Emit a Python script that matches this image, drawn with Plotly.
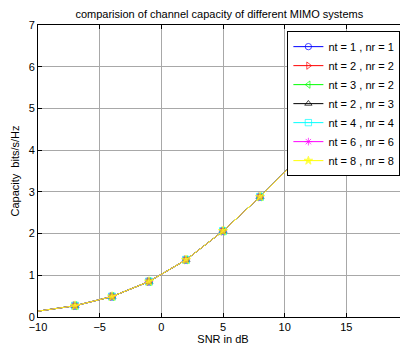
import plotly.graph_objects as go

snr_db = [-10, -7, -4, -1, 2, 5, 8, 11, 14, 17, 20]
capacity = [0.14, 0.27, 0.49, 0.85, 1.37, 2.06, 2.88, 3.77, 4.71, 5.68, 6.66]

series_names = ["nt = 1 , nr = 1", "nt = 2 , nr = 2", "nt = 3 , nr = 2",
                "nt = 2 , nr = 3", "nt = 4 , nr = 4", "nt = 6 , nr = 6",
                "nt = 8 , nr = 8"]
series_colors = ["#0000ff", "#ff0000", "#00ff00", "#000000", "#00ffff", "#ff00ff", "#ffff00"]
series_symbols = ["circle-open", "triangle-right-open", "triangle-left-open",
                  "triangle-up-open", "square-open", "asterisk-open", "star"]
series_values = [capacity] * 7

fig = go.Figure()
for name, col, sym, vals in zip(series_names, series_colors, series_symbols, series_values):
    sizes = [0] + [7] * (len(snr_db) - 1)
    fig.add_trace(go.Scatter(
        x=snr_db, y=vals, name=name, mode="lines+markers",
        line=dict(color=col, width=1),
        marker=dict(symbol=sym, size=sizes, color=col, line=dict(color=col, width=1)),
        cliponaxis=False,
    ))

font = dict(family="Liberation Sans, Arial, sans-serif", size=11, color="#000000")
axis_common = dict(showline=True, linecolor="#000000", linewidth=1, mirror="ticks",
                   ticks="inside", ticklen=4, tickcolor="#000000",
                   showgrid=True, gridcolor="#a8a8a8", gridwidth=1, zeroline=False,
                   tickfont=font, automargin=False, ticklabeloverflow="allow")
fig.update_layout(
    width=408, height=350,
    margin=dict(l=30, r=8, t=17, b=41, autoexpand=False),
    paper_bgcolor="white", plot_bgcolor="white",
    font=font,
    title=dict(text="comparision of channel capacity of different MIMO systems",
               xref="paper", x=0.49, xanchor="center",
               yref="container", y=1 - 6 / 350, yanchor="middle",
               font=dict(family="Liberation Sans, Arial, sans-serif", size=11, color="#000")),
    xaxis=dict(range=[-10, 20], tickvals=[-10, -5, 0, 5, 10, 15, 20],
               title=dict(text="SNR in dB", standoff=0, font=font), **axis_common),
    yaxis=dict(range=[0, 7], tickvals=[0, 1, 2, 3, 4, 5, 6, 7],
               title=dict(text="Capacity  bits/s/Hz", standoff=6, font=font), **axis_common),
    legend=dict(x=0.674, y=0.979, xanchor="left", yanchor="top",
                bgcolor="white", bordercolor="#000000", borderwidth=1,
                font=dict(family="Liberation Sans, Arial, sans-serif", size=11, color="#000"),
                itemwidth=30, tracegroupgap=0),
    showlegend=True,
)
fig.write_html("out.html")
